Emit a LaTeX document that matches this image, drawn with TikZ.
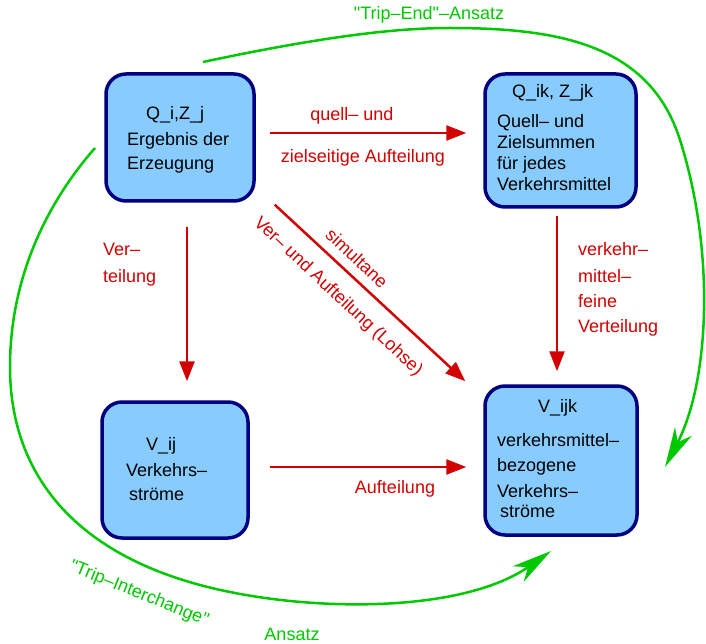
\documentclass[tikz,border=0pt]{standalone}
\usepackage{fontspec}
\setmainfont{Liberation Sans}[Ligatures=TeXOff]
\usetikzlibrary{arrows.meta}
\definecolor{boxfill}{RGB}{136,204,255}
\definecolor{boxline}{RGB}{0,0,128}
\definecolor{redline}{RGB}{210,0,0}
\definecolor{greenline}{RGB}{0,200,0}
\tikzset{
	box/.style={draw=boxline, fill=boxfill, line width=3.5pt, rounded corners=20pt, inner sep=0pt},
	txt/.style={anchor=base west, inner sep=0pt, font=\fontsize{18}{22}\selectfont},
	rtxt/.style={txt, text=redline},
	gtxt/.style={txt, text=greenline},
	redarrow/.style={draw=redline, line width=2.5pt, -{Triangle[length=20pt,width=15pt]}},
	greenarrow/.style={draw=greenline, line width=2.5pt, -{Stealth[length=40pt,width=19pt,inset=12pt]}}
}

\begin{document}
\begin{tikzpicture}[x=1pt, y=-1pt]
			\useasboundingbox (0,0) rectangle (706,644);
			\node[box, minimum width=148pt, minimum height=127pt] (qz) at (180,137.5) {};
			\node[box, minimum width=151pt, minimum height=133pt] (qik) at (560.5,140.5) {};
			\node[box, minimum width=146pt, minimum height=136pt] (vij) at (175,470) {};
			\node[box, minimum width=152pt, minimum height=149pt] (vijk) at (561,460.5) {};
			\foreach [count=\i] \x/\y/\t in {146/120/{Q\_i,Z\_j}, 127/146/Ergebnis der, 127/170/Erzeugung}{
				\node[txt] (qz\i) at (\x,\y) {\t};
			}
			\foreach [count=\i] \x/\y/\t in {512/98/{Q\_ik, Z\_jk}, 497/128/Quell– und, 497/149/Zielsummen, 497/170/für jedes, 497/191/Verkehrsmittel}{
				\node[txt] (qik\i) at (\x,\y) {\t};
			}
			\foreach [count=\i] \x/\y/\t in {146/450/V\_ij, 126/476/Verkehrs–, 129/500/ströme}{
				\node[txt] (vij\i) at (\x,\y) {\t};
			}
			\foreach [count=\i] \x/\y/\t in {538/412/V\_ijk, 497/446/verkehrsmittel–, 497/471/bezogene, 497/497/Verkehrs–, 500/517/ströme}{
				\node[txt] (vijk\i) at (\x,\y) {\t};
			}
			\draw[redarrow, shorten <=14pt, shorten >=17pt] ([yshift=4.5pt]qz.east) -- ([yshift=7.5pt]qik.west);
			\draw[redarrow, shorten <=24pt, shorten >=19pt] ([xshift=7pt]qz.south) -- ([xshift=12pt]vij.north);
			\draw[redarrow, shorten <=7pt, shorten >=13pt] ([xshift=-3.5pt]qik.south) -- ([xshift=-4pt]vijk.north);
			\draw[redarrow, shorten <=20pt, shorten >=17pt] ([yshift=3pt]vij.east) -- ([yshift=-6.5pt]vijk.west);
			\draw[redarrow] ([xshift=19pt, yshift=-2pt]qz.south east) -- ([xshift=-18pt, yshift=3pt]vijk.north west);
			\node[rtxt, anchor=base] (quell) at (352,121) {quell– und};
			\node[rtxt, anchor=base] (ziel) at (363,163) {zielseitige Aufteilung};
			\node[rtxt] (ver) at (103,255) {Ver–};
			\node[rtxt] (teil) at (103,282) {teilung};
			\foreach [count=\i] \y/\t in {255/verkehr–, 282/mittel–, 307/feine, 332/Verteilung}{
				\node[rtxt] (fein\i) at (578,\y) {\t};
			}
			\node[rtxt, anchor=center, rotate=-43] (simul) at (357,258) {simultane};
			\node[rtxt, anchor=center, rotate=-43] (lohse) at (338,297) {Ver– und Aufteilung (Lohse)};
			\node[rtxt, anchor=base] (aufteil) at (395,493) {Aufteilung};
			\coordinate (te0) at (203,62);
			\coordinate (te1) at (665,467);
			\draw[greenarrow] (te0) .. controls (330,35) and (400,28) .. (450,28) .. controls (560,28) and (650,45) .. (680,140) .. controls (715,250) and (710,380) .. (te1);
			\coordinate (ti0) at (95,148);
			\coordinate (ti1) at (551,551);
			\draw[greenarrow] (ti0) .. controls (45,205) and (10,280) .. (10,367) .. controls (10,470) and (70,550) .. (200,585) .. controls (300,612) and (460,615) .. (ti1);
			\node[gtxt, anchor=base] (tripend) at (429,20) {"Trip–End"–Ansatz};
			\node[gtxt, anchor=center, rotate=-22] (tripinter) at (139,594) {"Trip–Interchange"};
			\node[gtxt, anchor=base] (ansatz) at (292,640) {Ansatz};
		\end{tikzpicture}
\end{document}
